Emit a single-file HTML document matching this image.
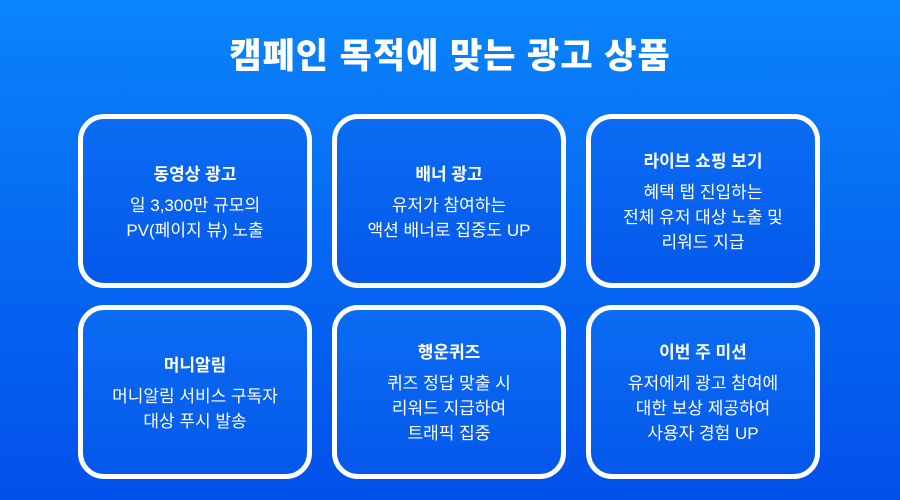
<!DOCTYPE html>
<html><head><meta charset="utf-8"><style>
*{margin:0;padding:0;box-sizing:border-box}
body{width:900px;height:500px;overflow:hidden;background:linear-gradient(180deg,#0a84fb 0%,#0668f2 50%,#0350ea 100%);font-family:"Liberation Sans","Noto Sans CJK KR",sans-serif;color:#fff;position:relative}
h1{position:absolute;top:28px;left:0;width:900px;text-align:center;font-size:35px;font-weight:900;letter-spacing:1px}
.b{position:absolute;width:234px;height:174px;border:5px solid #fff;border-radius:26px;background:linear-gradient(180deg,#0a6cf3,#0558ea);display:flex;flex-direction:column;justify-content:center;align-items:center;text-align:center}
.t{font-size:17px;font-weight:bold;margin-bottom:8px}
.d{font-size:17px;line-height:25px}
</style></head><body>
<h1>캠페인 목적에 맞는 광고 상품</h1>
<div class="b" style="left:78px;top:114px"><div class="t">동영상 광고</div><div class="d">일 3,300만 규모의<br>PV(페이지 뷰) 노출</div></div>
<div class="b" style="left:332px;top:114px"><div class="t">배너 광고</div><div class="d">유저가 참여하는<br>액션 배너로 집중도 UP</div></div>
<div class="b" style="left:586px;top:114px"><div class="t">라이브 쇼핑 보기</div><div class="d">혜택 탭 진입하는<br>전체 유저 대상 노출 및<br>리워드 지급</div></div>
<div class="b" style="left:78px;top:305px"><div class="t">머니알림</div><div class="d">머니알림 서비스 구독자<br>대상 푸시 발송</div></div>
<div class="b" style="left:332px;top:305px"><div class="t">행운퀴즈</div><div class="d">퀴즈 정답 맞출 시<br>리워드 지급하여<br>트래픽 집중</div></div>
<div class="b" style="left:586px;top:305px"><div class="t">이번 주 미션</div><div class="d">유저에게 광고 참여에<br>대한 보상 제공하여<br>사용자 경험 UP</div></div>
</body></html>
